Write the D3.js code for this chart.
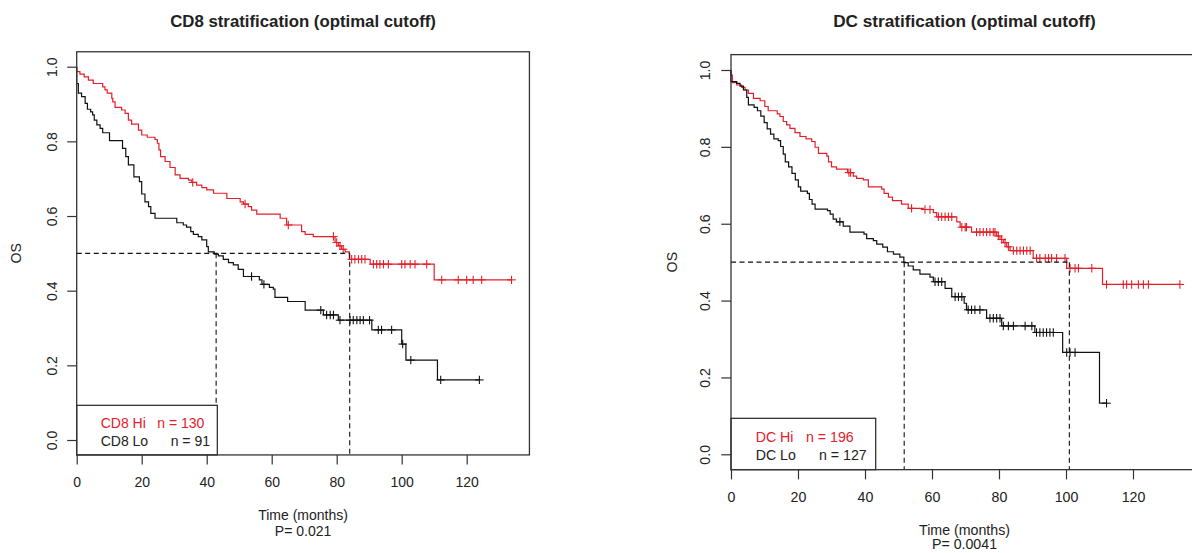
<!DOCTYPE html>
<html><head><meta charset="utf-8">
<script src="https://cdn.jsdelivr.net/npm/d3@7"></script>
<style>
body{margin:0;background:#fff}
svg{display:block}
text{font-family:"Liberation Sans",Arial,sans-serif;fill:#222}
</style>
</head><body>
<svg id="c" width="1192" height="553"></svg>
<script>
// ---------- data ----------
const xTicks = [0, 20, 40, 60, 80, 100, 120];
const yTicks = [0, 0.2, 0.4, 0.6, 0.8, 1.0];

const titles = ["CD8 stratification (optimal cutoff)", "DC stratification (optimal cutoff)"];
const pValues = ["P= 0.021", "P= 0.0041"];
const groupLabels = [["CD8 Hi", "CD8 Lo"], ["DC Hi", "DC Lo"]];
const groupN = [[130, 91], [196, 127]];
const mediansHi = [84, 101];
const mediansLo = [42.9, 51.7];

// CD8 Hi (red)
const cd8HiTime = [0,1.0,2.3,3.6,5.1,8.0,8.7,9.4,10.8,11.1,11.8,13.8,14.9,15.9,16.9,19.0,20.0,21.7,24.1,24.8,25.3,25.8,27.2,28.7,30.3,31.8,34.4,35.4,36.9,38.5,40.0,42.1,46.2,50.3,51.3,52.8,53.8,55.4,62.6,64.6,69.2,70.3,72.8,79.5,80.5,81.5,82.6,83.9,90.3,110.0];
const cd8HiSurv = [0.987,0.980,0.973,0.964,0.955,0.946,0.938,0.929,0.915,0.906,0.891,0.884,0.875,0.857,0.846,0.830,0.817,0.811,0.805,0.795,0.777,0.759,0.746,0.730,0.710,0.701,0.696,0.690,0.683,0.676,0.670,0.661,0.647,0.638,0.632,0.625,0.616,0.605,0.594,0.576,0.558,0.551,0.545,0.529,0.520,0.511,0.504,0.484,0.471,0.429];
const cd8HiCensor = [35.7,51.8,65.1,79.0,80.0,81.0,82.0,84.6,85.6,86.7,87.7,88.7,91.3,92.3,93.3,94.4,95.9,100.0,101.0,102.6,104.1,107.7,112.3,117.4,120.0,122.0,124.6,133.8];

// CD8 Lo (black)
const cd8LoTime = [0,0.5,1.5,2.6,3.3,4.3,4.9,5.4,6.2,7.2,8.0,10.1,14.1,15.1,15.9,17.6,19.3,20.0,21.0,22.1,22.8,24.1,30.8,32.8,33.8,35.1,35.9,37.4,38.5,40.0,40.5,42.3,43.6,45.1,46.7,48.2,49.7,51.3,56.2,57.0,59.3,60.5,61.0,64.9,70.3,75.9,80.5,90.8,100.0,101.3,111.0];
const cd8LoSurv = [0.955,0.929,0.920,0.902,0.886,0.879,0.871,0.857,0.844,0.835,0.823,0.802,0.781,0.759,0.737,0.705,0.692,0.659,0.638,0.625,0.607,0.594,0.582,0.576,0.570,0.558,0.551,0.545,0.536,0.518,0.504,0.498,0.493,0.484,0.475,0.469,0.457,0.438,0.429,0.417,0.409,0.404,0.382,0.371,0.348,0.335,0.321,0.295,0.257,0.214,0.161];
const cd8LoCensor = [53.8,57.6,75.1,76.9,78.0,79.0,81.0,84.1,85.1,86.2,87.2,88.2,90.1,92.8,93.8,96.9,100.3,102.8,112.0,123.9];

// DC Hi (red)
const dcHiTime = [0,0.4,1.7,3.2,4.2,5.2,6.7,8.7,10.1,11.1,13.8,14.6,15.6,16.6,17.6,19.1,20.6,22.4,24.1,25.1,26.1,28.6,29.1,30.0,31.5,34.8,36.5,37.5,39.5,41.0,45.0,45.7,47.0,48.2,50.9,52.9,57.4,60.4,61.4,67.4,68.4,71.8,79.3,80.3,81.3,82.3,83.3,90.2,100.2,110.9];
const dcHiSurv = [0.987,0.967,0.961,0.955,0.948,0.939,0.926,0.920,0.905,0.894,0.886,0.879,0.866,0.857,0.848,0.837,0.827,0.821,0.814,0.799,0.783,0.776,0.761,0.748,0.742,0.733,0.724,0.718,0.714,0.696,0.690,0.679,0.669,0.660,0.651,0.640,0.637,0.629,0.618,0.605,0.591,0.578,0.568,0.559,0.551,0.540,0.530,0.510,0.484,0.442];
const dcHiCensor = [35.2,35.7,53.9,57.9,59.4,61.9,62.9,63.9,64.9,65.9,68.9,69.9,70.3,73.3,74.3,75.3,76.3,77.3,78.3,78.8,79.8,80.8,81.8,82.8,84.3,85.3,86.3,87.3,88.3,89.3,91.2,92.2,93.8,94.8,95.7,97.2,99.7,101.2,102.7,103.7,107.7,112.1,117.1,118.1,119.6,121.6,123.1,124.6,134.0];

// DC Lo (black)
const dcLoTime = [0,1.7,2.7,3.7,4.7,5.2,6.9,7.9,8.9,9.9,10.8,11.8,12.8,14.1,14.8,15.6,16.2,17.2,18.2,19.2,20.1,20.8,22.8,23.4,24.2,25.1,28.8,29.6,30.5,31.5,33.5,35.5,39.7,40.5,42.5,43.5,45.3,46.7,48.5,50.4,51.6,52.9,54.4,56.4,59.4,60.4,63.9,65.9,69.6,70.3,76.3,80.8,90.7,99.0,110.0];
const dcLoSurv = [0.970,0.965,0.958,0.948,0.929,0.909,0.903,0.894,0.880,0.863,0.847,0.833,0.821,0.816,0.801,0.781,0.761,0.748,0.731,0.714,0.696,0.685,0.679,0.663,0.651,0.638,0.634,0.625,0.612,0.605,0.594,0.578,0.573,0.561,0.556,0.547,0.539,0.527,0.521,0.513,0.499,0.490,0.480,0.469,0.461,0.449,0.432,0.410,0.393,0.376,0.354,0.334,0.317,0.265,0.133];
const dcLoCensor = [32.5,60.9,61.9,62.9,66.9,67.9,68.9,70.8,71.8,72.8,74.3,77.3,78.3,79.3,80.3,81.3,82.8,84.3,87.8,89.8,91.2,92.2,93.2,94.2,95.2,96.2,100.2,101.2,102.7,112.1];

// ---------- layout (positions / styles) ----------
const RED = "#e3202a", BLACK = "#111";
const layout = [
  {left:76.7, pxMonth:3.25, xMax:139.3, y0:440, y1:66.7, font:14, titleFont:16.8, tick:9.5,
   legRight:217.3, legTop:405.3, legRows:[423.3,441], legLabelX:100.7, legNX:[157.3,170.7],
   xlabOff:[60,76.5], ylabOff:60.7, tickLabX:26.7, tickLabY:25},
  {left:731, pxMonth:3.35, xMax:139.4, y0:454.3, y1:70, font:14.2, titleFont:17.2, tick:9.7,
   legRight:875.7, legTop:418.3, legRows:[436.7,454.7], legLabelX:755.7, legNX:[806,819],
   xlabOff:[60.5,74.8], ylabOff:59, tickLabX:27.4, tickLabY:25.5}
];
const series = [
  {hi:{t:cd8HiTime, s:cd8HiSurv, c:cd8HiCensor}, lo:{t:cd8LoTime, s:cd8LoSurv, c:cd8LoCensor}},
  {hi:{t:dcHiTime, s:dcHiSurv, c:dcHiCensor}, lo:{t:dcLoTime, s:dcLoSurv, c:dcLoCensor}}
];

const svg = d3.select("#c");

function survAt(d, t){
  let s = 1;
  for (let i=0;i<d.t.length;i++){ if (d.t[i] <= t) s = d.s[i]; else break; }
  return s;
}

function drawCurve(g, x, y, d, color){
  const tEnd = Math.max(d.t[d.t.length-1], d3.max(d.c));
  const pts = [[0,1]];
  d.t.forEach((t,i)=>pts.push([t,d.s[i]]));
  pts.push([tEnd, d.s[d.s.length-1]]);
  const line = d3.line().x(p=>x(p[0])).y(p=>y(p[1])).curve(d3.curveStepAfter);
  g.append("path").attr("d", line(pts)).attr("fill","none").attr("stroke",color).attr("stroke-width",1.2);
  const m = 4.2;
  const cg = g.append("g").attr("stroke",color).attr("stroke-width",1.1);
  d.c.forEach(t=>{
    const cx = x(t), cy = y(survAt(d,t));
    cg.append("line").attr("x1",cx).attr("x2",cx).attr("y1",cy-m).attr("y2",cy+m);
    cg.append("line").attr("x1",cx-m).attr("x2",cx+m).attr("y1",cy).attr("y2",cy);
  });
}

layout.forEach((L, k)=>{
  const g = svg.append("g");
  const x = d3.scaleLinear().domain([0, L.xMax]).range([L.left, L.left + L.xMax*L.pxMonth]);
  const y = d3.scaleLinear().domain([0, 1]).range([L.y0, L.y1]);
  const top = y(1.04), bottom = y(-0.04), left = x(0), right = x(L.xMax);
  const cx = (left+right)/2, cy = (top+bottom)/2;

  // axes
  const xa = g.append("g").attr("transform",`translate(0,${bottom})`)
    .call(d3.axisBottom(x).tickValues(xTicks).tickSize(L.tick).tickFormat(d3.format("d")));
  xa.select(".domain").remove();
  xa.selectAll("line").attr("stroke","#333").attr("stroke-width",1.2);
  xa.selectAll("text").attr("y", L.tickLabX).attr("dy","0.35em")
    .style("font-size", L.font+"px").attr("fill","#222");

  const ya = g.append("g").attr("transform",`translate(${left},0)`)
    .call(d3.axisLeft(y).tickValues(yTicks).tickSize(L.tick).tickFormat(d3.format(".1f")));
  ya.select(".domain").remove();
  ya.selectAll("line").attr("stroke","#333").attr("stroke-width",1.2);
  ya.selectAll("text").attr("x", null).attr("dy","0.35em")
    .attr("text-anchor","middle")
    .attr("transform",`translate(${-L.tickLabY},0) rotate(-90)`)
    .style("font-size", L.font+"px").attr("fill","#222");

  // curves
  drawCurve(g, x, y, series[k].hi, RED);
  drawCurve(g, x, y, series[k].lo, BLACK);

  // median dashed lines
  const dg = g.append("g").attr("stroke","#111").attr("stroke-width",1.1).attr("stroke-dasharray","5,3.5").attr("fill","none");
  dg.append("line").attr("x1",x(0)).attr("x2",x(mediansHi[k])).attr("y1",y(0.5)).attr("y2",y(0.5));
  [mediansLo[k], mediansHi[k]].forEach(m=>{
    dg.append("line").attr("x1",x(m)).attr("x2",x(m)).attr("y1",y(0.5)).attr("y2",bottom);
  });

  // legend
  g.append("rect").attr("x",left).attr("y",L.legTop).attr("width",L.legRight-left).attr("height",bottom-L.legTop)
    .attr("fill","#fff").attr("stroke","#222").attr("stroke-width",1.2);
  [0,1].forEach(i=>{
    const col = i===0 ? RED : "#222";
    g.append("text").attr("x",L.legLabelX).attr("y",L.legRows[i]).attr("dy","0.35em")
      .style("font-size",L.font+"px").style("fill",col).text(groupLabels[k][i]);
    g.append("text").attr("x",L.legNX[i]).attr("y",L.legRows[i]).attr("dy","0.35em")
      .style("font-size",L.font+"px").style("fill",col).text("n = " + groupN[k][i]);
  });

  // box
  g.append("rect").attr("x",left).attr("y",top).attr("width",right-left).attr("height",bottom-top)
    .attr("fill","none").attr("stroke","#333").attr("stroke-width",1.3);

  // titles & labels
  g.append("text").attr("x",cx).attr("y",21).attr("dy","0.35em").attr("text-anchor","middle")
    .style("font-size",L.titleFont+"px").style("font-weight","bold").text(titles[k]);
  g.append("text").attr("x",cx).attr("y",bottom+L.xlabOff[0]).attr("dy","0.35em").attr("text-anchor","middle")
    .style("font-size",L.font+"px").text("Time (months)");
  g.append("text").attr("x",cx).attr("y",bottom+L.xlabOff[1]).attr("dy","0.35em").attr("text-anchor","middle")
    .style("font-size",L.font+"px").text(pValues[k]);
  g.append("text").attr("transform",`translate(${left-L.ylabOff},${cy}) rotate(-90)`).attr("dy","0.35em")
    .attr("text-anchor","middle").style("font-size",L.font+"px").text("OS");
});
</script>
</body></html>
